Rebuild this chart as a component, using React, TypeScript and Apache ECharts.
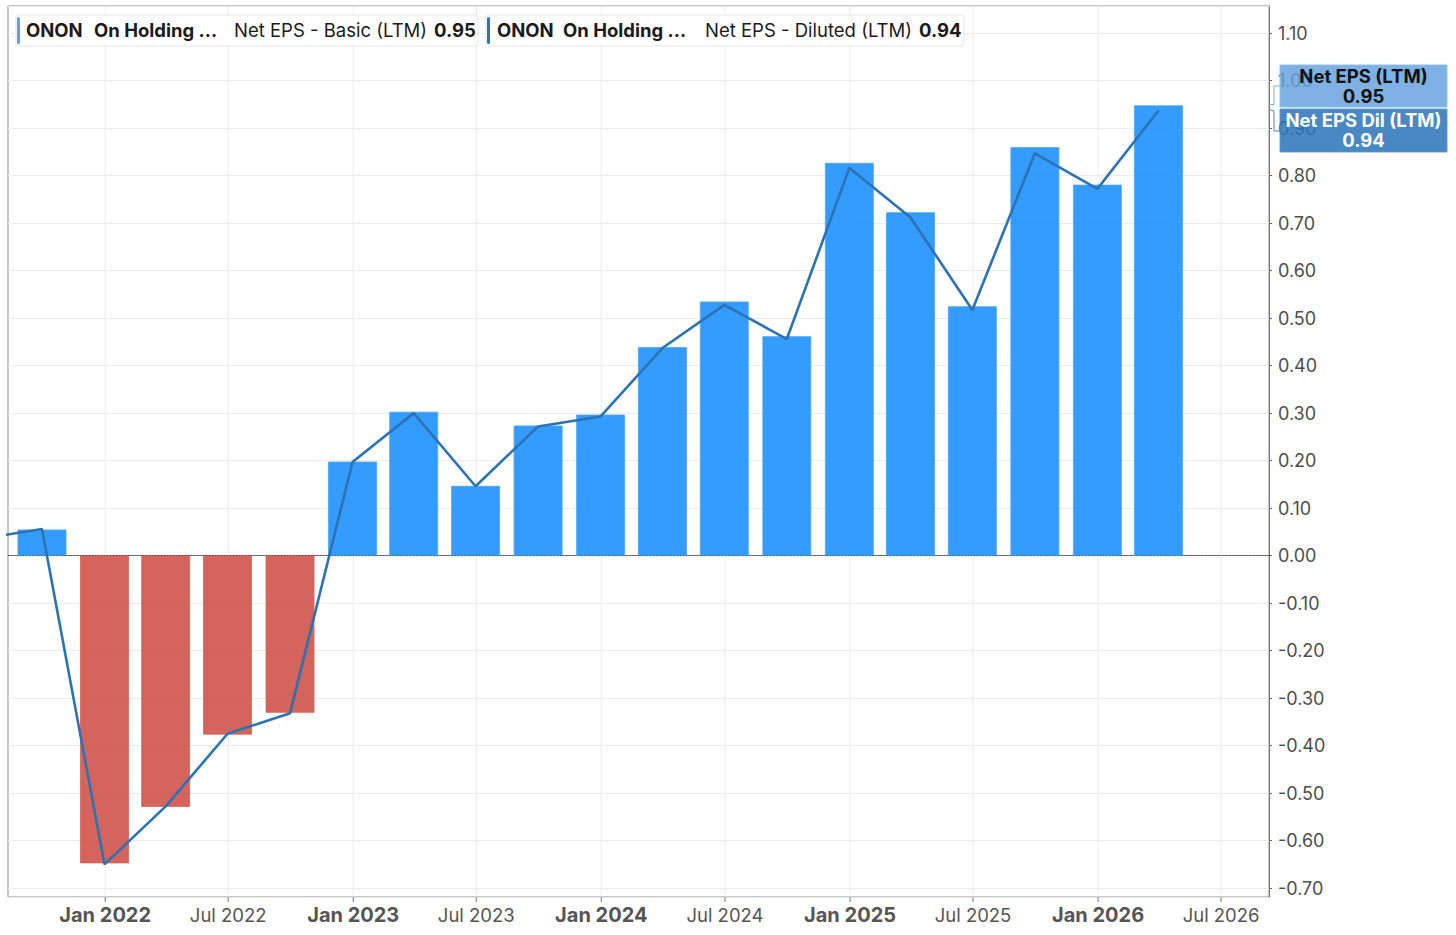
import React, { useEffect, useRef } from 'react';
import * as echarts from 'echarts';

// Period end dates (first point lies before the visible range and is clipped)
const periodDates = [
  '2021-06-30', '2021-09-30', '2021-12-31', '2022-03-31', '2022-06-30',
  '2022-09-30', '2022-12-31', '2023-03-31', '2023-06-30', '2023-09-30',
  '2023-12-31', '2024-03-31', '2024-06-30', '2024-09-30', '2024-12-31',
  '2025-03-31', '2025-06-30', '2025-09-30', '2025-12-31', '2026-03-31',
];
const basicEps: (number | null)[] = [
  null, 0.054, -0.647, -0.528, -0.376, -0.33, 0.197, 0.302, 0.146, 0.273,
  0.296, 0.438, 0.534, 0.461, 0.826, 0.722, 0.524, 0.859, 0.78, 0.947,
];
const dilutedEps = [
  0.035, 0.056, -0.65, -0.528, -0.375, -0.332, 0.197, 0.3, 0.146, 0.272,
  0.293, 0.437, 0.528, 0.456, 0.816, 0.712, 0.517, 0.847, 0.772, 0.937,
];
const xTickDates = [
  '2022-01-01', '2022-07-01', '2023-01-01', '2023-07-01', '2024-01-01',
  '2024-07-01', '2025-01-01', '2025-07-01', '2026-01-01', '2026-07-01',
];
const xTickLabels = [
  'Jan 2022', 'Jul 2022', 'Jan 2023', 'Jul 2023', 'Jan 2024',
  'Jul 2024', 'Jan 2025', 'Jul 2025', 'Jan 2026', 'Jul 2026',
];
const xMin = '2021-08-11';
const xMax = '2026-09-09T12:00:00';
const yMin = -0.7187;
const yMax = 1.1571;

const FONT = 'Inter, Roboto, sans-serif';

export default function App() {
  const ref = useRef<HTMLDivElement>(null);
  useEffect(() => {
    document.body.style.margin = '0';
    const chart = echarts.init(ref.current!, null, { renderer: 'svg' });
    const lastBasic = (basicEps[basicEps.length - 1] as number).toFixed(2);
    const lastDil = dilutedEps[dilutedEps.length - 1].toFixed(2);

    const legendText = (x: number, text: string, bold: boolean) => ({
      type: 'text',
      x,
      y: 30,
      z: 100,
      style: {
        text,
        fill: '#1a1a1a',
        font: `${bold ? 'bold ' : ''}18.5px ${FONT}`,
        verticalAlign: 'middle',
      },
    });

    const option: any = {
      animation: false,
      grid: {
        left: 8,
        right: 187,
        top: 6,
        bottom: 38,
        show: true,
        borderColor: '#8a8a8a',
        borderWidth: 1,
        backgroundColor: 'transparent',
      },
      xAxis: {
        type: 'time',
        min: xMin,
        max: xMax,
        axisLine: { show: true, lineStyle: { color: '#777' } },
        axisTick: { show: false },
        axisLabel: { show: false },
        splitLine: { show: false },
      },
      yAxis: {
        type: 'value',
        position: 'right',
        min: yMin,
        max: yMax,
        splitNumber: 18,
        minInterval: 0.1,
        maxInterval: 0.1,
        axisLine: { show: true, lineStyle: { color: '#777' } },
        axisTick: { show: true, length: 3, lineStyle: { color: '#666' } },
        axisLabel: {
          margin: 9,
          color: '#4d4d4d',
          fontSize: 18,
          fontFamily: FONT,
          showMinLabel: false,
          showMaxLabel: false,
          formatter: (v: number) =>
            Math.abs(v * 10 - Math.round(v * 10)) < 1e-6 ? v.toFixed(2) : '',
        },
        splitLine: { show: true, lineStyle: { color: '#ebebeb' } },
      },
      series: [
        {
          type: 'custom',
          name: 'x ticks',
          z: 1,
          silent: true,
          clip: false,
          encode: { x: 0, y: 1 },
          data: xTickDates.map((d, i) => [d, 0, i]),
          renderItem: (params: any, api: any) => {
            const d = api.value(0);
            const idx = api.value(2);
            const top = api.coord([d, yMax]);
            const bot = api.coord([d, yMin]);
            const label = xTickLabels[idx];
            const isJan = label.startsWith('Jan');
            return {
              type: 'group',
              children: [
                {
                  type: 'line',
                  shape: { x1: top[0], y1: top[1], x2: top[0], y2: bot[1] },
                  style: { stroke: '#ebebeb', lineWidth: 1 },
                },
                {
                  type: 'line',
                  shape: { x1: top[0], y1: bot[1], x2: top[0], y2: bot[1] + 5 },
                  style: { stroke: '#777', lineWidth: 1 },
                },
                {
                  type: 'text',
                  x: top[0],
                  y: bot[1] + 18,
                  style: {
                    text: label,
                    align: 'center',
                    verticalAlign: 'middle',
                    fill: '#555',
                    font: `${isJan ? 'bold 20px' : '18.5px'} ${FONT}`,
                  },
                },
              ],
            };
          },
        },
        {
          type: 'custom',
          name: 'Net EPS - Basic (LTM)',
          z: 2,
          silent: true,
          encode: { x: 0, y: 1 },
          data: periodDates.map((d, i) => [d, basicEps[i]]),
          renderItem: (params: any, api: any) => {
            const v = api.value(1);
            if (v == null || isNaN(v)) return null;
            const d = api.value(0);
            const p0 = api.coord([d, 0]);
            const p1 = api.coord([d, v]);
            const w = 48;
            const neg = v < 0;
            return {
              type: 'rect',
              shape: {
                x: p0[0] - w / 2,
                y: Math.min(p0[1], p1[1]),
                width: w,
                height: Math.abs(p1[1] - p0[1]),
              },
              style: {
                fill: neg ? 'rgba(206,78,70,0.88)' : 'rgba(30,144,255,0.9)',
                stroke: neg ? 'rgba(220,90,80,0.75)' : 'rgba(70,165,255,0.8)',
                lineWidth: 1,
              },
            };
          },
        },
        {
          type: 'line',
          name: 'Net EPS - Diluted (LTM)',
          z: 3,
          showSymbol: false,
          symbol: 'none',
          data: periodDates.map((d, i) => [d, dilutedEps[i]]),
          lineStyle: { color: '#2B73B3', width: 2.6 },
          markLine: {
            silent: true,
            symbol: 'none',
            label: { show: false },
            lineStyle: { color: '#555', type: [1, 2], width: 1 },
            data: [{ yAxis: 0 }],
          },
        },
      ],
      graphic: [
        // legend box 1
        {
          type: 'rect', z: 99,
          shape: { x: 16, y: 15, width: 462, height: 31, r: 3 },
          style: { fill: '#fff', stroke: '#e6e6e6', lineWidth: 1 },
        },
        {
          type: 'rect', z: 100,
          shape: { x: 17, y: 17, width: 3, height: 27, r: 1.5 },
          style: { fill: '#5AA5EA' },
        },
        legendText(26, 'ONON', true),
        legendText(94, 'On Holding ...', true),
        legendText(234, 'Net EPS - Basic (LTM)', false),
        legendText(434, lastBasic, true),
        // legend box 2
        {
          type: 'rect', z: 99,
          shape: { x: 486, y: 15, width: 478, height: 31, r: 3 },
          style: { fill: '#fff', stroke: '#e6e6e6', lineWidth: 1 },
        },
        {
          type: 'rect', z: 100,
          shape: { x: 487, y: 17, width: 3, height: 27, r: 1.5 },
          style: { fill: '#2C75B8' },
        },
        legendText(497, 'ONON', true),
        legendText(563, 'On Holding ...', true),
        legendText(705, 'Net EPS - Diluted (LTM)', false),
        legendText(919, lastDil, true),
        // right value boxes
        {
          type: 'polyline', z: 100,
          shape: { points: [[1269, 104.5], [1274, 104.5], [1274, 86], [1280, 86]] },
          style: { stroke: '#7DB0E2', lineWidth: 1, fill: null },
        },
        {
          type: 'polyline', z: 100,
          shape: { points: [[1269, 109.5], [1274, 111], [1274, 131], [1280, 131]] },
          style: { stroke: '#4A88C3', lineWidth: 1, fill: null },
        },
        {
          type: 'rect', z: 101,
          shape: { x: 1280, y: 65, width: 167, height: 42 },
          style: { fill: 'rgba(100,160,222,0.82)', stroke: 'rgba(140,190,240,0.9)', lineWidth: 1 },
        },
        {
          type: 'text', z: 102, x: 1363.5, y: 76,
          style: { text: 'Net EPS (LTM)', align: 'center', verticalAlign: 'middle', fill: '#111', font: `bold 18.5px ${FONT}` },
        },
        {
          type: 'text', z: 102, x: 1363.5, y: 96,
          style: { text: lastBasic, align: 'center', verticalAlign: 'middle', fill: '#111', font: `bold 18.5px ${FONT}` },
        },
        {
          type: 'rect', z: 101,
          shape: { x: 1280, y: 109, width: 167, height: 43 },
          style: { fill: 'rgba(42,115,184,0.85)', stroke: 'rgba(90,150,210,0.9)', lineWidth: 1 },
        },
        {
          type: 'text', z: 102, x: 1363.5, y: 120,
          style: { text: 'Net EPS Dil (LTM)', align: 'center', verticalAlign: 'middle', fill: '#fff', font: `bold 18.5px ${FONT}` },
        },
        {
          type: 'text', z: 102, x: 1363.5, y: 140,
          style: { text: lastDil, align: 'center', verticalAlign: 'middle', fill: '#fff', font: `bold 18.5px ${FONT}` },
        },
      ],
    };
    chart.setOption(option);
    return () => chart.dispose();
  }, []);
  return (
    <div
      ref={ref}
      style={{ position: 'absolute', left: 0, top: 0, width: 1456, height: 935, background: '#fff' }}
    />
  );
}
